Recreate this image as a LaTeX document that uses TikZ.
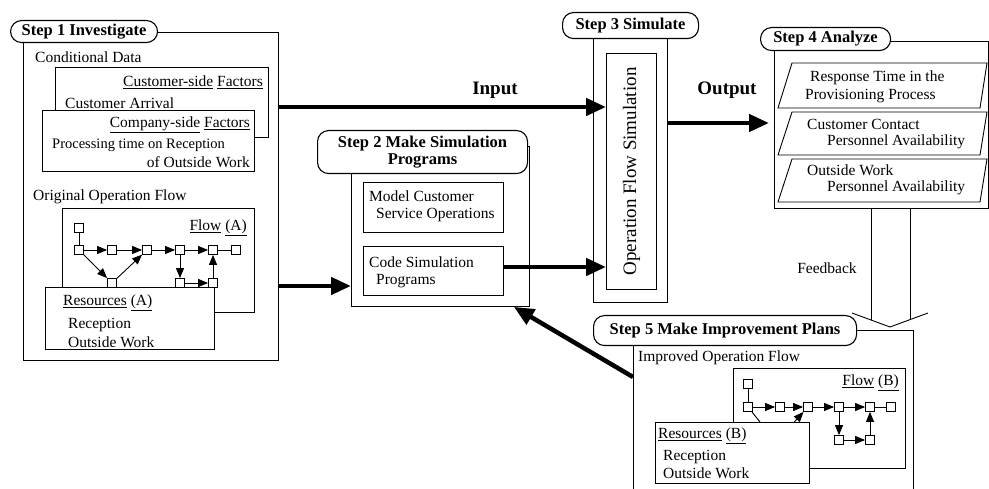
\documentclass[tikz,border=0pt]{standalone}
\usepackage{fontspec}
\setmainfont{Liberation Serif}
\usetikzlibrary{arrows.meta}
\begin{document}
\begin{tikzpicture}[x=1pt,y=-1pt,
  frame/.style={draw,line width=0.9pt,anchor=north west,inner sep=0pt},
  steplabel/.style={draw,line width=1.1pt,fill=white,rounded corners=11pt,anchor=north west,inner sep=0pt,align=center,font=\fontsize{16.5}{17}\selectfont\bfseries},
  box/.style={draw,line width=0.9pt,fill=white,anchor=north west,inner sep=0pt},
  txt/.style={font=\fontsize{15.5}{17}\selectfont,inner sep=0pt},
  bigtxt/.style={font=\fontsize{19}{20}\selectfont\bfseries,inner sep=0pt},
  big/.style={line width=4.5pt,-{Triangle[length=20pt,width=17pt]}},
  fn/.style={draw,line width=0.8pt,fill=white,minimum size=9pt,inner sep=0pt},
  fa/.style={line width=0.9pt,-{Triangle[length=10pt,width=8pt]}},
  fl/.style={line width=0.9pt},
  thin/.style={line width=0.9pt},
]
\useasboundingbox (0,0) rectangle (989,489);

% ---------------- Step 1 ----------------
\node[frame,minimum width=255pt,minimum height=328pt] (s1f) at (23,32) {};
\node[steplabel,minimum width=147pt,minimum height=22pt] (s1l) at (10,20) {Step 1 Investigate};
\node[txt,anchor=west] (cd) at (35,57) {Conditional Data};
\node[box,minimum width=213pt,minimum height=70pt] (cust) at (55,67) {};
\node[txt,anchor=east] (custf) at (263,82) {\underline{Customer-side} \underline{Factors}};
\node[txt,anchor=west] (custa) at (65,103) {Customer Arrival};
\node[box,minimum width=212pt,minimum height=61pt] (comp) at (42,110) {};
\node[txt,anchor=east] (compf) at (250,125) {\underline{Company-side} \underline{Factors}};
\node[txt,anchor=west,font=\fontsize{14.5}{16}\selectfont] (proc1) at (52,145) {Processing time on Reception};
\node[txt,anchor=east] (proc2) at (250,162) {of Outside Work};
\node[txt,anchor=west] (oof) at (33,197) {Original Operation Flow};
\node[box,minimum width=192pt,minimum height=104pt] (flowa) at (62,208) {};
\node[txt,anchor=east] (flowat) at (247,228) {\underline{Flow} \underline{(A)}};
% flow A graph
\node[fn] (a0) at (79,228) {};
\node[fn] (a1) at (79,250) {};
\node[fn] (a2) at (112,250) {};
\node[fn] (a3) at (147,250) {};
\node[fn] (a4) at (180,250) {};
\node[fn] (a5) at (213,250) {};
\node[fn] (a6) at (236,250) {};
\node[fn] (a7) at (112,283) {};
\node[fn] (a8) at (180,283) {};
\node[fn] (a9) at (213,283) {};
\draw[fl] (a0) -- (a1);
\draw[fa] (a1) -- (a2);
\draw[fa] (a2) -- (a3);
\draw[fa] (a3) -- (a4);
\draw[fa] (a4) -- (a5);
\draw[fl] (a5) -- (a6);
\draw[fa] (a1) -- (a7);
\draw[fa] (a7) -- (a3);
\draw[fa] (a4) -- (a8);
\draw[fa] (a8) -- (a9);
\draw[fa] (a9) -- (a5);
\node[box,minimum width=169pt,minimum height=62pt] (resa) at (45,287) {};
\node[txt,anchor=west] (resat) at (63,303) {\underline{Resources} \underline{(A)}};
\node[txt,anchor=west] (resa1) at (68,325) {Reception};
\node[txt,anchor=west] (resa2) at (68,342) {Outside Work};

% ---------------- Step 2 ----------------
\node[frame,minimum width=178pt,minimum height=160pt] (s2f) at (351,146) {};
\node[steplabel,minimum width=210pt,minimum height=43pt] (s2l) at (317,130) {Step 2 Make Simulation\\Programs};
\node[box,minimum width=140pt,minimum height=50pt] (model) at (363,182) {};
\node[txt,anchor=west] (model1) at (369,196) {Model Customer};
\node[txt,anchor=west] (model2) at (376,215) {Service Operations};
\node[box,minimum width=140pt,minimum height=49pt] (code) at (363,246) {};
\node[txt,anchor=west] (code1) at (369,262) {Code Simulation};
\node[txt,anchor=west] (code2) at (376,281) {Programs};

% ---------------- Step 3 ----------------
\node[frame,minimum width=74pt,minimum height=277pt] (s3f) at (593,25) {};
\node[steplabel,minimum width=136pt,minimum height=26pt] (s3l) at (562,12) {Step 3 Simulate};
\node[box,minimum width=50pt,minimum height=236pt] (s3i) at (606,53) {};
\node[inner sep=0pt,rotate=90,font=\fontsize{19}{20}\selectfont] (s3t) at (s3i.center) {Operation Flow Simulation};

% ---------------- Step 4 ----------------
\node[frame,minimum width=214pt,minimum height=167pt] (s4f) at (774,41) {};
\node[steplabel,minimum width=130pt,minimum height=23pt] (s4l) at (760,27) {Step 4 Analyze};
\draw[thin] (778,108) -- (792,63) -- (987,63) -- (980,108) -- cycle;
\draw[thin] (778,155) -- (792,112) -- (987,112) -- (980,155) -- cycle;
\draw[thin] (778,202) -- (792,159) -- (987,159) -- (980,202) -- cycle;
\node[txt,anchor=west] (r1a) at (810,78) {Response Time in the};
\node[txt,anchor=west] (r1b) at (805,96) {Provisioning Process};
\node[txt,anchor=west] (r2a) at (807,124) {Customer Contact};
\node[txt,anchor=west] (r2b) at (827,142) {Personnel Availability};
\node[txt,anchor=west] (r3a) at (807,170) {Outside Work};
\node[txt,anchor=west] (r3b) at (827,188) {Personnel Availability};

% ---------------- Step 5 ----------------
\coordinate (s5bl) at (633,489);
\coordinate (s5tl) at (633,330);
\coordinate (s5tr) at (913,330);
\coordinate (s5br) at (913,489);
\draw[thin] (s5bl) -- (s5tl) -- (s5tr) -- (s5br);
\node[steplabel,minimum width=263pt,minimum height=30pt] (s5l) at (593,315) {Step 5 Make Improvement Plans};
\node[txt,anchor=west] (iof) at (638,358) {Improved Operation Flow};
\node[box,minimum width=172pt,minimum height=100pt] (flowb) at (733,368) {};
\node[txt,anchor=east] (flowbt) at (899,383) {\underline{Flow} \underline{(B)}};
\node[fn] (b0) at (748,384) {};
\node[fn] (b1) at (748,407) {};
\node[fn] (b2) at (780,407) {};
\node[fn] (b3) at (808,407) {};
\node[fn] (b4) at (839,407) {};
\node[fn] (b5) at (870,407) {};
\node[fn] (b6) at (891,407) {};
\node[fn] (b7) at (776,442) {};
\node[fn] (b8) at (839,440) {};
\node[fn] (b9) at (870,440) {};
\draw[fl] (b0) -- (b1);
\draw[fa] (b1) -- (b2);
\draw[fa] (b2) -- (b3);
\draw[fa] (b3) -- (b4);
\draw[fa] (b4) -- (b5);
\draw[fl] (b5) -- (b6);
\draw[fa] (b1) -- (b7);
\draw[fa] (b7) -- (b3);
\draw[fa] (b4) -- (b8);
\draw[fa] (b8) -- (b9);
\draw[fa] (b9) -- (b5);
\node[box,minimum width=154pt,minimum height=61pt] (resb) at (655,422) {};
\node[txt,anchor=west] (resbt) at (658,436) {\underline{Resources} \underline{(B)}};
\node[txt,anchor=west] (resb1) at (663,457) {Reception};
\node[txt,anchor=west] (resb2) at (663,473) {Outside Work};

% ---------------- Connectors ----------------
\draw[big] (s1f.east |- 0,107) -- (s3i.west |- 0,107);
\node[bigtxt] (inp) at (495,90) {Input};
\draw[big] (s1f.east |- 0,286) -- (s2f.west |- 0,286);
\draw[big] (code.east |- 0,267) -- (s3i.west |- 0,267);
\draw[big,shorten >=5pt] (s3f.east |- 0,123) -- (s4f.west |- 0,123);
\node[bigtxt] (outp) at (727,90) {Output};
\coordinate (s5a) at (633,377);
\draw[big] (s5a) -- ([xshift=-16pt]s2f.south east);
% feedback hollow arrow
\coordinate (fbl0) at (871,208);
\coordinate (fbl1) at (871,320);
\coordinate (fbr0) at (910,208);
\coordinate (fbr1) at (910,320);
\coordinate (fbw1) at (852,313);
\coordinate (fbtip) at (890,327);
\coordinate (fbw2) at (928,313);
\draw[thin] (fbl0) -- (fbl1);
\draw[thin] (fbr0) -- (fbr1);
\draw[thin] (fbw1) -- (fbtip) -- (fbw2);
\node[txt] (fb) at (827,268) {Feedback};
\end{tikzpicture}
\end{document}
